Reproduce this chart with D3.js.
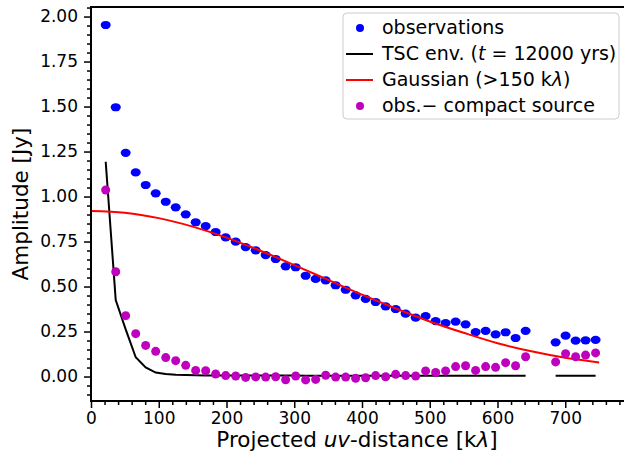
<!DOCTYPE html>
<html><head><meta charset="utf-8">
<script src="https://cdn.jsdelivr.net/npm/d3@7"></script>
<style>
body{margin:0;background:#fff}
svg{display:block}
text{font-family:"DejaVu Sans",sans-serif;fill:#000}
</style>
</head><body>
<svg id="chart" width="624" height="455"></svg>
<script>
// ---- data ----
const uvDist = [21.7, 36.5, 51.2, 66.0, 80.7, 95.5, 110.3, 125.0, 139.8, 154.5,
  169.3, 184.0, 198.8, 213.6, 228.3, 243.1, 257.8, 272.6, 287.3, 302.1,
  316.8, 331.6, 346.4, 361.1, 375.9, 390.6, 405.4, 420.1, 434.9, 449.7,
  464.4, 479.2, 493.9, 508.7, 523.4, 538.2, 552.9, 567.7, 582.5, 597.2,
  612.0, 626.7, 641.5, 656.2, 671.0, 685.8, 700.5, 715.3, 730.0, 744.8];
const observations = [1.953, 1.496, 1.243, 1.134, 1.064, 1.018, 0.971, 0.940, 0.901, 0.857,
  0.836, 0.803, 0.773, 0.749, 0.719, 0.701, 0.675, 0.653, 0.612, 0.607,
  0.560, 0.542, 0.534, 0.507, 0.482, 0.451, 0.431, 0.414, 0.390, 0.375,
  0.349, 0.327, 0.336, 0.308, 0.297, 0.305, 0.290, 0.247, 0.254, 0.234,
  0.246, 0.214, 0.254, null, null, 0.190, 0.227, 0.199, 0.201, 0.204];
const compactSub = [1.036, 0.582, 0.338, 0.238, 0.173, 0.140, 0.105, 0.088, 0.062, 0.034,
  0.032, 0.014, 0.005, 0.003, -0.005, -0.002, -0.003, -0.001, -0.018, 0.003,
  -0.019, -0.016, 0.007, -0.003, -0.003, -0.010, -0.007, 0.005, -0.001, 0.012,
  0.005, 0.003, 0.031, 0.023, 0.031, 0.055, 0.060, 0.034, 0.055, 0.051,
  0.077, 0.060, 0.110, null, null, 0.081, 0.127, 0.110, 0.119, 0.131];
const tscEnv = [1.193, 0.425, 0.262, 0.107, 0.051, 0.022, 0.014, 0.010, 0.008, 0.007,
  0.006, 0.006, 0.005, 0.005, 0.005, 0.005, 0.005, 0.005, 0.005, 0.005,
  0.004, 0.004, 0.004, 0.004, 0.004, 0.004, 0.004, 0.004, 0.004, 0.004,
  0.004, 0.004, 0.004, 0.004, 0.004, 0.004, 0.004, 0.004, 0.004, 0.004,
  0.004, 0.004, 0.004, null, null, 0.004, 0.004, 0.004, 0.004, 0.004];
const gaussX = [0, 50, 100, 150, 200, 250, 300, 350, 400, 450, 500, 550, 600, 650, 700, 750];
const gaussY = [0.920, 0.910, 0.880, 0.833, 0.772, 0.699, 0.619, 0.537, 0.455, 0.378,
  0.306, 0.243, 0.185, 0.140, 0.104, 0.078];
const xTicks = [0, 100, 200, 300, 400, 500, 600, 700];
const yTicks = [0, 0.25, 0.5, 0.75, 1.0, 1.25, 1.5, 1.75, 2.0];
const legendLabels = ["observations", "TSC env.", "Gaussian", "obs.\u2212 compact source"];

// ---- drawing ----
const svg = d3.select("#chart");
const L = 91, R = 625, T = 7, B = 401;
const x = d3.scaleLinear().domain([0, 788.2]).range([L, R]);
const y = d3.scaleLinear().domain([-0.136, 2.053]).range([B, T]);

svg.append("defs").append("clipPath").attr("id", "clip")
  .append("rect").attr("x", L).attr("y", T).attr("width", R - L).attr("height", B - T);

const plot = svg.append("g").attr("clip-path", "url(#clip)");

const idx = d3.range(uvDist.length);

// observations
plot.append("g").selectAll("ellipse")
  .data(idx.filter(i => observations[i] != null))
  .join("ellipse")
  .attr("cx", i => x(uvDist[i])).attr("cy", i => y(observations[i]))
  .attr("rx", 5).attr("ry", 4.1).attr("fill", "#0000ff");

// TSC envelope
const lineTsc = d3.line()
  .defined(i => tscEnv[i] != null)
  .x(i => x(uvDist[i])).y(i => y(tscEnv[i]));
plot.append("path").attr("d", lineTsc(idx))
  .attr("fill", "none").attr("stroke", "#000").attr("stroke-width", 2);

// Gaussian
const lineG = d3.line().curve(d3.curveMonotoneX)
  .x((d, i) => x(gaussX[i])).y((d, i) => y(gaussY[i]));
plot.append("path").attr("d", lineG(gaussX))
  .attr("fill", "none").attr("stroke", "#ff0000").attr("stroke-width", 2);

// obs - compact
plot.append("g").selectAll("circle")
  .data(idx.filter(i => compactSub[i] != null))
  .join("circle")
  .attr("cx", i => x(uvDist[i])).attr("cy", i => y(compactSub[i]))
  .attr("r", 4.5).attr("fill", "#bf00bf");

// axes
const xMinor = d3.range(0, 789, 20).filter(v => v % 100 !== 0);
const yMinor = d3.range(-0.10, 2.06, 0.05).map(v => +v.toFixed(2)).filter(v => Math.abs(v * 4 - Math.round(v * 4)) > 1e-6);

function styleAxis(g) {
  g.select(".domain").remove();
  g.selectAll("line").attr("stroke", "#000").attr("stroke-width", 1.5);
  g.selectAll("text").style("font-size", "17px").attr("fill", "#000");
}

svg.append("g").attr("transform", `translate(0,${B})`)
  .call(d3.axisBottom(x).tickValues(xTicks).tickSize(7).tickPadding(4).tickFormat(d3.format("d")))
  .call(styleAxis);
svg.append("g").attr("transform", `translate(0,${B})`)
  .call(d3.axisBottom(x).tickValues(xMinor).tickSize(4).tickFormat(""))
  .call(styleAxis);
svg.append("g").attr("transform", `translate(${L},0)`)
  .call(d3.axisLeft(y).tickValues(yTicks).tickSize(7).tickPadding(6).tickFormat(d3.format(".2f")))
  .call(styleAxis);
svg.append("g").attr("transform", `translate(${L},0)`)
  .call(d3.axisLeft(y).tickValues(yMinor).tickSize(4).tickFormat(""))
  .call(styleAxis);

// spines
svg.append("rect").attr("x", L).attr("y", T).attr("width", R - L).attr("height", B - T)
  .attr("fill", "none").attr("stroke", "#000").attr("stroke-width", 2);

// axis labels
const xl = svg.append("text").attr("x", 357).attr("y", 447)
  .attr("text-anchor", "middle").style("font-size", "21.5px");
xl.append("tspan").text("Projected ");
xl.append("tspan").style("font-style", "italic").text("uv");
xl.append("tspan").text("-distance [k");
xl.append("tspan").style("font-style", "italic").text("\u03bb");
xl.append("tspan").text("]");

svg.append("text").attr("transform", `translate(28,${(T + B) / 2}) rotate(-90)`)
  .attr("text-anchor", "middle").style("font-size", "21.5px").text("Amplitude [Jy]");

// legend
const lg = svg.append("g");
lg.append("rect").attr("x", 343).attr("y", 13).attr("width", 276).attr("height", 106)
  .attr("rx", 4).attr("fill", "#fff").attr("fill-opacity", 0.8)
  .attr("stroke", "#cccccc").attr("stroke-width", 1);
const rowY = i => 28 + 26 * i;
lg.append("circle").attr("cx", 360).attr("cy", rowY(0)).attr("r", 4).attr("fill", "#0000ff");
lg.append("line").attr("x1", 346).attr("x2", 373).attr("y1", rowY(1)).attr("y2", rowY(1))
  .attr("stroke", "#000").attr("stroke-width", 2);
lg.append("line").attr("x1", 346).attr("x2", 373).attr("y1", rowY(2)).attr("y2", rowY(2))
  .attr("stroke", "#ff0000").attr("stroke-width", 2);
lg.append("circle").attr("cx", 360).attr("cy", rowY(3)).attr("r", 4).attr("fill", "#bf00bf");

const fs = "19px";
const t0 = lg.append("text").attr("x", 382).attr("y", rowY(0) + 5.5).style("font-size", fs);
t0.text(legendLabels[0]);
const t1 = lg.append("text").attr("x", 382).attr("y", rowY(1) + 5.5).style("font-size", fs);
t1.append("tspan").text(legendLabels[1] + " (");
t1.append("tspan").style("font-style", "italic").text("t");
t1.append("tspan").text(" = 12000 yrs)");
const t2 = lg.append("text").attr("x", 382).attr("y", rowY(2) + 5.5).style("font-size", fs);
t2.append("tspan").text(legendLabels[2] + " (>150 k");
t2.append("tspan").style("font-style", "italic").text("\u03bb");
t2.append("tspan").text(")");
const t3 = lg.append("text").attr("x", 382).attr("y", rowY(3) + 5.5).style("font-size", fs);
t3.text(legendLabels[3]);
</script>
</body></html>
